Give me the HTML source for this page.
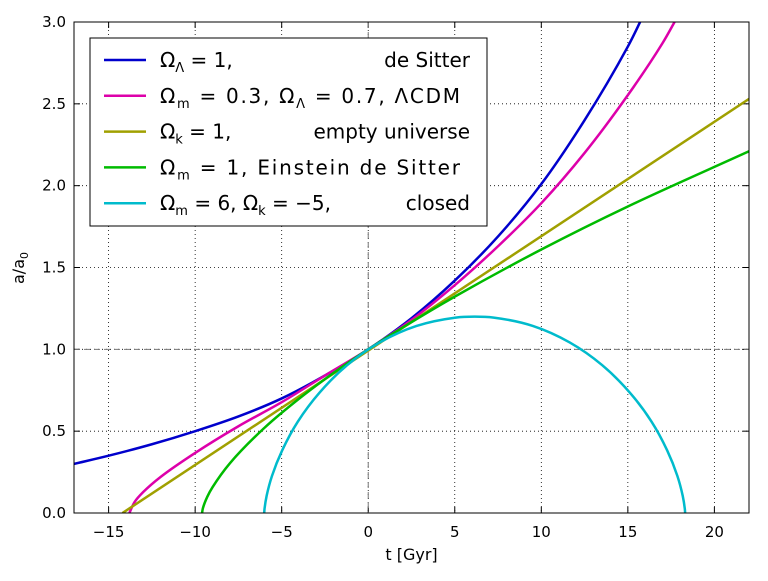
<!DOCTYPE html>
<html><head><meta charset="utf-8"><style>
body{margin:0;background:#fff}
svg text{font-family:"DejaVu Sans","Liberation Sans",sans-serif}
</style></head><body>
<svg id="c" width="768" height="576" xmlns="http://www.w3.org/2000/svg"></svg>
<script>
const xTicks=[-15,-10,-5,0,5,10,15,20];
const yTicks=[0.0,0.5,1.0,1.5,2.0,2.5,3.0];
const deSitterT=[-17,-15,-12.5,-10,-7.5,-5,-2.5,0,2.5,5,7.5,10,12.5,15,15.8];
const deSitterA=[0.30,0.35,0.42,0.50,0.59,0.70,0.84,1.0,1.19,1.42,1.69,2.01,2.40,2.85,3.02];
const lcdmT=[-13.8,-13.5,-13,-12,-10,-7.5,-5,-2.5,0,2.5,5,7.5,10,12.5,15,17,17.7];
const lcdmA=[0,0.067,0.128,0.22,0.367,0.53,0.677,0.84,1.0,1.18,1.392,1.63,1.893,2.2,2.553,2.87,3.0];
const emptyT=[-14.2,22];
const emptyA=[0,2.53];
const edsT=[-9.6,-9.55,-9.3,-9,-8,-6,-4,-2,0,2,5,10,15,22];
const edsA=[0,0.03,0.099,0.157,0.303,0.52,0.698,0.856,1.0,1.134,1.322,1.61,1.873,2.21];
const closedT=[-6.01,-5.99,-5.87,-5.56,-4.97,-4.07,-2.81,-1.22,0.66,2.79,5.05,6.15,7.25,9.51,11.64,13.52,15.11,16.37,17.27,17.86,18.17,18.29,18.31];
const closedA=[0,0.027,0.105,0.227,0.383,0.558,0.736,0.903,1.042,1.143,1.194,1.2,1.194,1.143,1.042,0.903,0.736,0.558,0.383,0.227,0.105,0.027,0];

const L=74,R=749,T=22,B=513,x0=-17,x1=22,y0=0,y1=3;
const X=v=>L+(v-x0)/(x1-x0)*(R-L);
const Y=v=>B-(v-y0)/(y1-y0)*(B-T);
const svg=document.getElementById('c');
const NS='http://www.w3.org/2000/svg';
function mk(tag,attrs,parent){const e=document.createElementNS(NS,tag);for(const k in attrs)e.setAttribute(k,attrs[k]);(parent||svg).appendChild(e);return e;}
const defs=mk('defs',{});
const cp=mk('clipPath',{id:'clip'},defs);mk('rect',{x:L,y:T,width:R-L,height:B-T},cp);

xTicks.forEach(t=>{const l=mk('line',{x1:X(t),x2:X(t),y1:T,y2:B,stroke:'#000','stroke-width':0.8,'stroke-dasharray':'1,3'});


const tx=mk('text',{x:X(t),y:B+24,'text-anchor':'middle','font-size':15});tx.textContent=(t<0?'\u2212'+(-t):t);


mk('line',{x1:X(t),x2:X(t),y1:B,y2:B-6,stroke:'#000'});mk('line',{x1:X(t),x2:X(t),y1:T,y2:T+6,stroke:'#000'});});
yTicks.forEach(t=>{const l=mk('line',{x1:L,x2:R,y1:Y(t),y2:Y(t),stroke:'#000','stroke-width':0.8,'stroke-dasharray':'1,3'});


const tx=mk('text',{x:L-8,y:Y(t)+5,'text-anchor':'end','font-size':15});tx.textContent=t.toFixed(1);


mk('line',{x1:L,x2:L+6,y1:Y(t),y2:Y(t),stroke:'#000'});mk('line',{x1:R,x2:R-6,y1:Y(t),y2:Y(t),stroke:'#000'});});
mk('line',{x1:X(0),x2:X(0),y1:T,y2:B,stroke:'#777','stroke-dasharray':'6,4'});
mk('line',{x1:L,x2:R,y1:Y(1),y2:Y(1),stroke:'#777','stroke-dasharray':'6,4'});

function path(ts,as){const p=ts.map((t,i)=>[X(t),Y(as[i])]);let d='M'+p[0].join(',');
if(p.length==2)return d+'L'+p[1].join(',');
const dist=(a,b)=>Math.max(Math.pow(Math.hypot(a[0]-b[0],a[1]-b[1]),0.5),1e-4);
for(let i=0;i<p.length-1;i++){
const p1=p[i],p2=p[i+1];
const p0=i>0?p[i-1]:[2*p1[0]-p2[0],2*p1[1]-p2[1]];
const p3=i+2<p.length?p[i+2]:[2*p2[0]-p1[0],2*p2[1]-p1[1]];
const d1=dist(p0,p1),d2=dist(p1,p2),d3=dist(p2,p3);
const c1=[],c2=[];
for(let k=0;k<2;k++){
const m1=((p1[k]-p0[k])/d1-(p2[k]-p0[k])/(d1+d2)+(p2[k]-p1[k])/d2)*d2;
const m2=((p2[k]-p1[k])/d2-(p3[k]-p1[k])/(d2+d3)+(p3[k]-p2[k])/d3)*d2;
c1[k]=p1[k]+m1/3;c2[k]=p2[k]-m2/3;}
d+='C'+c1.join(',')+' '+c2.join(',')+' '+p2.join(',');}return d;}
const series=[[deSitterT,deSitterA,'#0000cc','series-de-sitter'],[lcdmT,lcdmA,'#dd00aa','series-lcdm'],[emptyT,emptyA,'#a0a000','series-empty'],[edsT,edsA,'#00bb00','series-einstein-de-sitter'],[closedT,closedA,'#00bbcc','series-closed']];
const g=mk('g',{'clip-path':'url(#clip)'});
series.forEach(s=>{const p=mk('path',{d:path(s[0],s[1]),fill:'none',stroke:s[2],'stroke-width':2.5},g);

});
mk('rect',{x:L,y:T,width:R-L,height:B-T,fill:'none',stroke:'#000','stroke-width':1});

const xl=mk('text',{x:(L+R)/2,y:560,'text-anchor':'middle','font-size':16});xl.textContent='t [Gyr]';


const yl=mk('text',{x:0,y:0,'text-anchor':'middle','font-size':16,transform:'translate(24,268) rotate(-90)'});yl.innerHTML='a/a<tspan font-size="11" dy="4">0</tspan>';



const lg=mk('g',{});


mk('rect',{x:90,y:38,width:397,height:188,fill:'#fff',stroke:'#000'},lg);
const entries=[
['#0000cc','Ω<tspan font-size="13" dy="5">Λ</tspan><tspan dy="-5"> = 1,</tspan>','de Sitter',0],
['#dd00aa','Ω<tspan font-size="13" dy="5">m</tspan><tspan dy="-5"> = 0.3, Ω</tspan><tspan font-size="13" dy="5">Λ</tspan><tspan dy="-5"> = 0.7, ΛCDM</tspan>','',300],
['#a0a000','Ω<tspan font-size="13" dy="5">k</tspan><tspan dy="-5"> = 1,</tspan>','empty universe',0],
['#00bb00','Ω<tspan font-size="13" dy="5">m</tspan><tspan dy="-5"> = 1, Einstein de Sitter</tspan>','',300],
['#00bbcc','Ω<tspan font-size="13" dy="5">m</tspan><tspan dy="-5"> = 6, Ω</tspan><tspan font-size="13" dy="5">k</tspan><tspan dy="-5"> = −5,</tspan>','closed',0]];
entries.forEach((e,i)=>{const y=60+i*35.8;
const gi=mk('g',{},lg);


mk('line',{x1:104,x2:146,y1:y,y2:y,stroke:e[0],'stroke-width':2.5},gi);
const at={x:160,y:y+7,'font-size':20};
if(e[3]){at.textLength=e[3];at.lengthAdjust='spacing';}
const t=mk('text',at,gi);t.innerHTML=e[1];
if(e[2]){const t2=mk('text',{x:470,y:y+7,'font-size':20,'text-anchor':'end'},gi);t2.textContent=e[2];}});
</script>
</body></html>
